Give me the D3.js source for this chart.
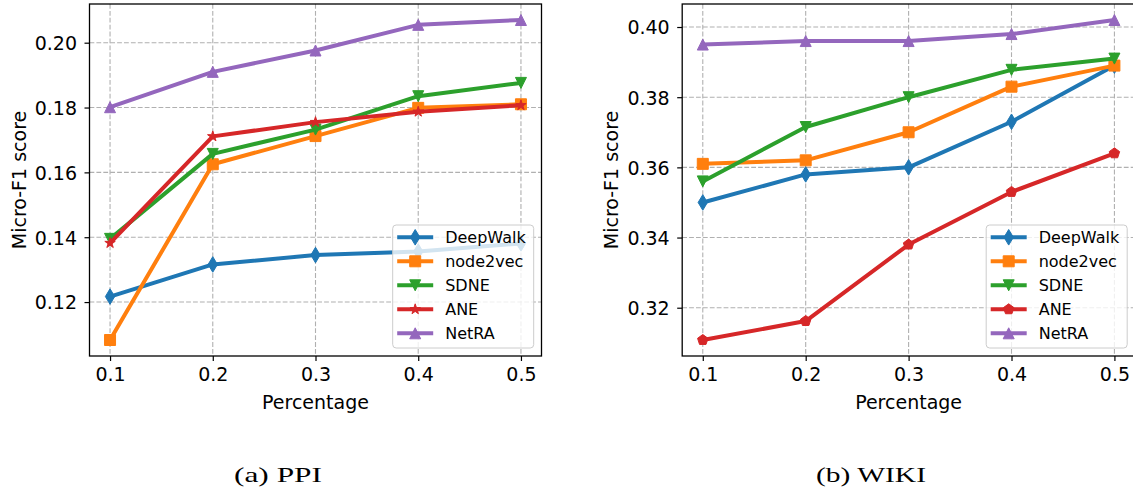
<!DOCTYPE html>
<html><head><meta charset="utf-8">
<script src="https://cdn.jsdelivr.net/npm/d3@7"></script>
<style>
body{margin:0;background:#fff}
svg{display:block}
text{font-family:"DejaVu Sans",sans-serif;fill:#000}
</style>
</head><body>
<svg id="c" width="1133" height="495"></svg>
<script>
// ---- data ----
const percentages = [0.1, 0.2, 0.3, 0.4, 0.5];
const xTickLabels = ["0.1", "0.2", "0.3", "0.4", "0.5"];
const methods = ["DeepWalk", "node2vec", "SDNE", "ANE", "NetRA"];

const ppiDeepWalk = [0.1217, 0.1316, 0.1345, 0.1356, 0.1381];
const ppiNode2vec = [0.1083, 0.1625, 0.1712, 0.1799, 0.1810];
const ppiSDNE     = [0.1395, 0.1657, 0.1732, 0.1835, 0.1876];
const ppiANE      = [0.1382, 0.1711, 0.1755, 0.1787, 0.1807];
const ppiNetRA    = [0.1801, 0.1910, 0.1976, 0.2055, 0.2070];
const ppiYTicks   = [0.12, 0.14, 0.16, 0.18, 0.20];
const ppiYTickLabels = ["0.12", "0.14", "0.16", "0.18", "0.20"];

const wikiDeepWalk = [0.350, 0.358, 0.360, 0.373, 0.389];
const wikiNode2vec = [0.361, 0.362, 0.370, 0.383, 0.389];
const wikiSDNE     = [0.356, 0.3715, 0.380, 0.3878, 0.391];
const wikiANE      = [0.3108, 0.3162, 0.338, 0.353, 0.364];
const wikiNetRA    = [0.395, 0.396, 0.396, 0.398, 0.402];
const wikiYTicks   = [0.32, 0.34, 0.36, 0.38, 0.40];
const wikiYTickLabels = ["0.32", "0.34", "0.36", "0.38", "0.40"];

const captions = ["(a) PPI", "(b) WIKI"];
const xLabel = "Percentage";
const yLabel = "Micro-F1 score";

// ---- styles ----
const colors = ["#1f77b4", "#ff7f0e", "#2ca02c", "#d62728", "#9467bd"];
const ppiMarkers  = ["thin_diamond", "square", "tri_down", "star", "tri_up"];
const wikiMarkers = ["thin_diamond", "square", "tri_down", "pentagon", "tri_up"];
const M = 11; // marker size in px

function markerPath(type, s) {
  const h = s / 2;
  let pts;
  if (type === "square") pts = [[-h,-h],[h,-h],[h,h],[-h,h]];
  else if (type === "thin_diamond") { const d = s*0.7071; pts = [[0,-d],[0.6*d,0],[0,d],[-0.6*d,0]]; }
  else if (type === "tri_down") pts = [[-h,-h],[h,-h],[0,h]];
  else if (type === "tri_up") pts = [[0,-h],[h,h],[-h,h]];
  else if (type === "pentagon") { pts = d3.range(5).map(i => { const a = -Math.PI/2 + i*2*Math.PI/5; return [h*Math.cos(a), h*Math.sin(a)]; }); }
  else if (type === "star") { const r2 = h*0.381966; pts = d3.range(10).map(i => { const a = -Math.PI/2 + i*Math.PI/5; const r = i%2===0 ? h : r2; return [r*Math.cos(a), r*Math.sin(a)]; }); }
  return "M" + pts.map(p => p[0].toFixed(2) + "," + p[1].toFixed(2)).join("L") + "Z";
}

const svg = d3.select("#c");
svg.append("defs").selectAll("clipPath").data([0,1]).enter().append("clipPath")
  .attr("id", d => "clip" + d);

const panels = [
  { left: 89.5, right: 541.5, top: 4, bottom: 356, series: [ppiDeepWalk, ppiNode2vec, ppiSDNE, ppiANE, ppiNetRA],
    yTicks: ppiYTicks, yTickLabels: ppiYTickLabels, markers: ppiMarkers, caption: captions[0], capX: 234, capW: 88 },
  { left: 682.2, right: 1135, top: 4, bottom: 356, series: [wikiDeepWalk, wikiNode2vec, wikiSDNE, wikiANE, wikiNetRA],
    yTicks: wikiYTicks, yTickLabels: wikiYTickLabels, markers: wikiMarkers, caption: captions[1], capX: 816, capW: 110 }
];

panels.forEach((p, pi) => {
  const allVals = p.series.flat();
  const [ymin, ymax] = d3.extent(allVals);
  const ym = (ymax - ymin) * 0.05;
  const [xmin, xmax] = d3.extent(percentages);
  const xm = (xmax - xmin) * 0.05;
  const x = d3.scaleLinear().domain([xmin - xm, xmax + xm]).range([p.left, p.right]);
  const y = d3.scaleLinear().domain([ymin - ym, ymax + ym]).range([p.bottom, p.top]);
  const W = p.right - p.left, H = p.bottom - p.top;

  svg.select("#clip" + pi).append("rect").attr("x", p.left).attr("y", p.top).attr("width", W).attr("height", H);

  const g = svg.append("g");

  // grid
  const grid = g.append("g").attr("stroke", "#b0b0b0").attr("stroke-width", 1.1).attr("stroke-dasharray", "4.8,2.1");
  grid.selectAll("line.v").data(percentages).enter().append("line")
    .attr("x1", d => x(d)).attr("x2", d => x(d)).attr("y1", p.top).attr("y2", p.bottom);
  grid.selectAll("line.h").data(p.yTicks).enter().append("line")
    .attr("x1", p.left).attr("x2", p.right).attr("y1", d => y(d)).attr("y2", d => y(d));

  // series
  const plot = g.append("g").attr("clip-path", "url(#clip" + pi + ")");
  const line = d3.line().x((d, i) => x(percentages[i])).y(d => y(d));
  p.series.forEach((vals, si) => {
    const sg = plot.append("g");
    sg.append("path").attr("d", line(vals)).attr("fill", "none").attr("stroke", colors[si])
      .attr("stroke-width", 4).attr("stroke-linejoin", "round");
    sg.selectAll("path.m").data(vals).enter().append("path").attr("class", "m")
      .attr("transform", (d, i) => `translate(${x(percentages[i])},${y(d)})`)
      .attr("d", markerPath(p.markers[si], M))
      .attr("fill", colors[si]).attr("stroke", colors[si]).attr("stroke-width", 1).attr("stroke-linejoin", "miter");
  });

  // axes
  const xAxis = d3.axisBottom(x).tickValues(percentages).tickFormat((d, i) => xTickLabels[i]).tickSize(5).tickPadding(7);
  const yAxis = d3.axisLeft(y).tickValues(p.yTicks).tickFormat((d, i) => p.yTickLabels[i]).tickSize(5).tickPadding(7.5);
  const gx = g.append("g").attr("transform", `translate(0,${p.bottom})`).call(xAxis);
  const gy = g.append("g").attr("transform", `translate(${p.left},0)`).call(yAxis);
  [gx, gy].forEach(a => {
    a.select(".domain").remove();
    a.selectAll(".tick line").attr("stroke", "#000").attr("stroke-width", 1.2);
    a.selectAll(".tick text").attr("font-size", "19px").attr("font-family", "DejaVu Sans").attr("fill", "#000");
  });
  gy.selectAll(".tick text").attr("dy", "0.36em");

  // spines
  g.append("rect").attr("x", p.left).attr("y", p.top).attr("width", W).attr("height", H)
    .attr("fill", "none").attr("stroke", "#000").attr("stroke-width", 1.3);

  // labels
  g.append("text").attr("x", (p.left + p.right) / 2).attr("y", 409).attr("text-anchor", "middle")
    .attr("font-size", "19px").text(xLabel);
  g.append("text").attr("transform", `translate(${p.left - 64},${(p.top + p.bottom) / 2}) rotate(-90)`)
    .attr("text-anchor", "middle").attr("font-size", "19px").text(yLabel);

  // legend
  const LW = 141, LH = 123;
  const L = p.right - 7.8 - LW, T = p.bottom - 8 - LH;
  const lg = g.append("g");
  lg.append("rect").attr("x", L).attr("y", T).attr("width", LW).attr("height", LH).attr("rx", 3.5)
    .attr("fill", "#fff").attr("fill-opacity", 0.8).attr("stroke", "#cccccc").attr("stroke-width", 1);
  methods.forEach((m, si) => {
    const cy = T + 12.3 + si * 24;
    lg.append("line").attr("x1", L + 4.5).attr("x2", L + 40.5).attr("y1", cy).attr("y2", cy)
      .attr("stroke", colors[si]).attr("stroke-width", 4);
    lg.append("path").attr("transform", `translate(${L + 22.5},${cy})`).attr("d", markerPath(p.markers[si], M))
      .attr("fill", colors[si]).attr("stroke", colors[si]).attr("stroke-width", 1);
    lg.append("text").attr("x", L + 52.5).attr("y", cy + 6).attr("font-size", "16px").text(m);
  });

  // caption
  svg.append("text").attr("x", p.capX).attr("y", 482)
    .attr("font-size", "21px").attr("textLength", p.capW).attr("lengthAdjust", "spacingAndGlyphs")
    .attr("fill", "#111")
    .style("font-family", "'Liberation Serif', serif").style("font-weight", "normal").text(p.caption);
});
</script>
</body></html>
